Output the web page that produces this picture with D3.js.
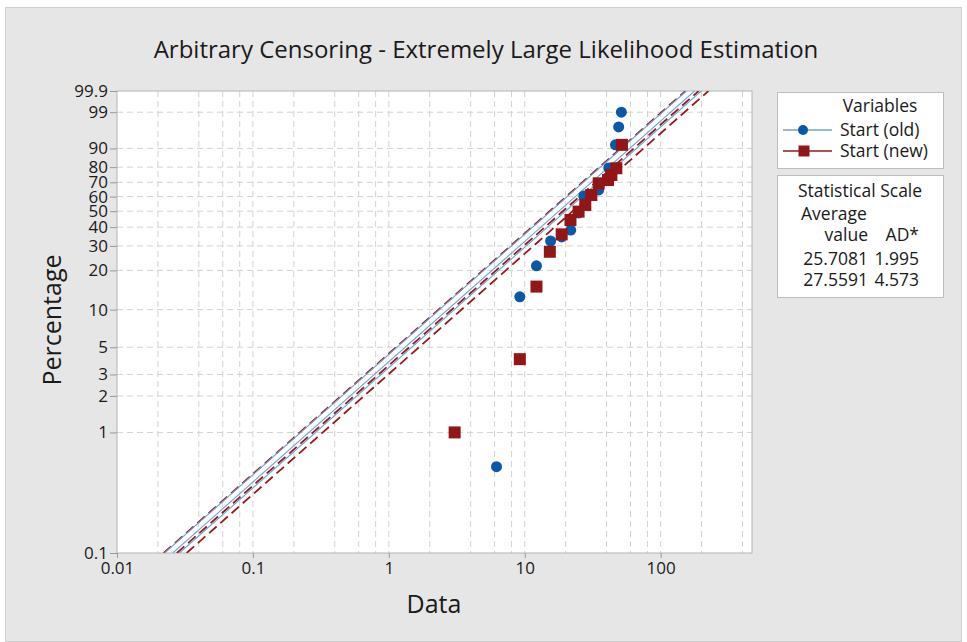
<!DOCTYPE html>
<html>
<head>
<meta charset="utf-8">
<script src="https://cdn.jsdelivr.net/npm/d3@7"></script>
<style>
  body { margin: 0; background: #fff; }
  svg text { font-family: "Open Sans", "Noto Sans", sans-serif; fill: #1a1a1a; }
  .grid line { stroke: #d2d2d2; stroke-dasharray: 6,4; }
  .axis path, .axis line { stroke: #9a9a9a; }
</style>
</head>
<body>
<svg id="chart" width="967" height="642"></svg>
<script>
// series: data (time) and plotted percentage
var oldVals = [6.2, 9.2, 12.2, 15.5, 18.7, 21.8, 24.9, 27.2, 35.0, 41.5, 46.5, 49.1, 51.4];
var oldPct  = [0.52, 12.6, 21.6, 32.4, 34.5, 38.3, 48.8, 60.4, 64.7, 79.5, 91.5, 96.9, 99.0];
var newVals = [3.05, 9.2, 12.2, 15.3, 18.7, 21.7, 24.9, 27.9, 30.9, 35.0, 41.0, 43.4, 47.2, 51.9];
var newPct  = [1.0, 4.0, 15.1, 27.3, 35.9, 44.3, 49.7, 54.2, 61.1, 69.3, 71.6, 75.0, 79.3, 91.5];

// fitted mean and band factors (lower, upper)
var seriesNames = ["Start (old)", "Start (new)"];
var means = [25.7081, 27.5591];
var adStats = ["1.995", "4.573"];
var bandLow = [0.87, 0.80];
var bandHigh = [1.12, 1.18];

var yTicks = [0.1, 1, 2, 3, 5, 10, 20, 30, 40, 50, 60, 70, 80, 90, 99, 99.9];
var xTicks = [0.01, 0.1, 1, 10, 100];
var xGrid = [0.02, 0.04, 0.06, 0.08, 0.1, 0.2, 0.4, 0.6, 0.8, 1, 2, 4, 6, 8, 10, 20, 40, 60, 80, 100, 200, 400];

var svg = d3.select("#chart");
var pL = 117, pR = 752, pT = 91, pB = 553;

// weibull paper transform
var wb = function(p) { return Math.log(-Math.log(1 - p / 100)); };

var x = d3.scaleLog().domain([0.01, 470]).range([pL, pR]);
var y = d3.scaleLinear().domain([wb(0.1), wb(99.9)]).range([pB, pT]);

// outer panel
svg.append("rect").attr("x", 0).attr("y", 0).attr("width", 967).attr("height", 642).attr("fill", "#fff");
svg.append("rect").attr("x", 5.5).attr("y", 7.5).attr("width", 956).attr("height", 634)
  .attr("fill", "#e6e6e6").attr("stroke", "#cfcfcf");

// plot area
svg.append("rect").attr("x", pL).attr("y", pT).attr("width", pR - pL).attr("height", pB - pT)
  .attr("fill", "#fff");

//grid
var grid = svg.append("g").attr("class", "grid");
grid.selectAll(".gx").data(xGrid).enter().append("line")
  .attr("x1", function(d) { return x(d); }).attr("x2", function(d) { return x(d); })
  .attr("y1", pT).attr("y2", pB);
grid.selectAll(".gy").data(yTicks.slice(1, -1)).enter().append("line")
  .attr("x1", pL).attr("x2", pR)
  .attr("y1", function(d) { return y(wb(d)); }).attr("y2", function(d) { return y(wb(d)); });

svg.append("rect").attr("x", pL).attr("y", pT).attr("width", pR - pL).attr("height", pB - pT)
  .attr("fill", "none").attr("stroke", "#b4b4b4");

// axes
var yAxis = d3.axisLeft(y).tickValues(yTicks.map(wb)).tickSize(7).tickSizeOuter(0)
  .tickFormat(function(d, i) { return String(yTicks[i]); });
svg.append("g").attr("class", "axis").attr("transform", "translate(" + pL + ",0)").call(yAxis)
  .call(function(g) { g.select(".domain").remove(); g.selectAll("text").attr("x", -9).style("font-size", "17px"); });

var xAxis = d3.axisBottom(x).tickValues(xTicks).tickSize(5).tickSizeOuter(0)
  .tickFormat(function(d) { return String(d); });
svg.append("g").attr("class", "axis").attr("transform", "translate(0," + pB + ")").call(xAxis)
  .call(function(g) { g.select(".domain").remove(); g.selectAll("text").attr("y", 9).style("font-size", "17px"); });

// fit lines
svg.append("clipPath").attr("id", "pclip").append("rect")
  .attr("x", pL).attr("y", pT).attr("width", pR - pL).attr("height", pB - pT);
var fits = svg.append("g").attr("clip-path", "url(#pclip)");
var ends = [0.1, 99.9];
var line = d3.line().x(function(d) { return x(d[0]); }).y(function(d) { return y(wb(d[1])); });
var styles = [
  { stroke: "#6fa3d3", width: 1.1, dash: null },
  { stroke: "#951b1b", width: 1.8, dash: "10,5" }
];
[1, 0].forEach(function(s) {
  [bandLow[s], 1, bandHigh[s]].forEach(function(f) {
    var pts = ends.map(function(p) { return [means[s] * f * (-Math.log(1 - p / 100)), p]; });
    fits.append("path").attr("d", line(pts)).attr("fill", "none")
      .attr("stroke", styles[s].stroke).attr("stroke-width", styles[s].width)
      .attr("stroke-dasharray", styles[s].dash);
  });
});

// points
var pts = svg.append("g");
pts.selectAll(".old").data(oldVals).enter().append("circle")
  .attr("cx", function(d) { return x(d); })
  .attr("cy", function(d, i) { return y(wb(oldPct[i])); })
  .attr("r", 5.5).attr("fill", "#0a58a8");
pts.selectAll(".new").data(newVals).enter().append("rect")
  .attr("x", function(d) { return x(d) - 6; })
  .attr("y", function(d, i) { return y(wb(newPct[i])) - 6; })
  .attr("width", 12).attr("height", 12).attr("fill", "#921616");

// titles
svg.append("text").attr("x", 486).attr("y", 58).attr("text-anchor", "middle")
  .style("font-size", "24px").text("Arbitrary Censoring - Extremely Large Likelihood Estimation");
svg.append("text").attr("x", 434).attr("y", 613).attr("text-anchor", "middle")
  .style("font-size", "25px").text("Data");
svg.append("text").attr("transform", "translate(61,320) rotate(-90)").attr("text-anchor", "middle")
  .style("font-size", "25px").text("Percentage");

// legend
var fs = "17.5px";
var lg = svg.append("g");
lg.append("rect").attr("x", 777.5).attr("y", 92.5).attr("width", 166).attr("height", 76)
  .attr("fill", "#fff").attr("stroke", "#bdbdbd");
lg.append("text").attr("x", 880).attr("y", 112).attr("text-anchor", "middle").style("font-size", fs).text("Variables");
seriesNames.forEach(function(n, i) {
  var yy = 130 + i * 21;
  lg.append("line").attr("x1", 783).attr("x2", 832).attr("y1", yy).attr("y2", yy)
    .attr("stroke", i === 0 ? "#6fa3d3" : "#951b1b").attr("stroke-width", 1.3);
  if (i === 0) lg.append("circle").attr("cx", 803).attr("cy", yy).attr("r", 5).attr("fill", "#0a58a8");
  else lg.append("rect").attr("x", 798.5).attr("y", yy - 5.5).attr("width", 11).attr("height", 11).attr("fill", "#921616");
  lg.append("text").attr("x", 840).attr("y", yy + 6).style("font-size", fs).text(n);
});

var tb = svg.append("g");
tb.append("rect").attr("x", 777.5).attr("y", 175.5).attr("width", 166).attr("height", 122)
  .attr("fill", "#fff").attr("stroke", "#bdbdbd");
tb.append("text").attr("x", 860).attr("y", 197).attr("text-anchor", "middle").style("font-size", fs).text("Statistical Scale");
tb.append("text").attr("x", 801).attr("y", 220).style("font-size", fs).text("Average");
tb.append("text").attr("x", 868).attr("y", 241).attr("text-anchor", "end").style("font-size", fs).text("value");
tb.append("text").attr("x", 919).attr("y", 241).attr("text-anchor", "end").style("font-size", fs).text("AD*");
means.forEach(function(m, i) {
  tb.append("text").attr("x", 868).attr("y", 265 + i * 21).attr("text-anchor", "end").style("font-size", fs).text(m.toFixed(4));
  tb.append("text").attr("x", 919).attr("y", 265 + i * 21).attr("text-anchor", "end").style("font-size", fs).text(adStats[i]);
});
</script>
</body>
</html>
